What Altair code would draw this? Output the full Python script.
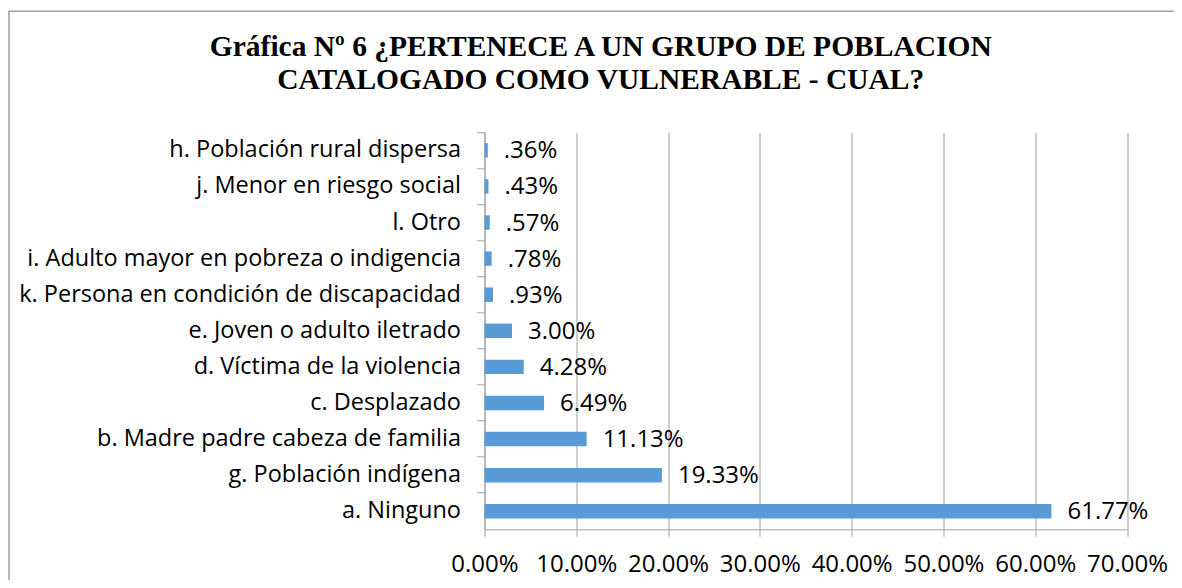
import altair as alt
import pandas as pd

categories = [
    "h. Población rural dispersa",
    "j. Menor en riesgo social",
    "l. Otro",
    "i. Adulto mayor en pobreza o indigencia",
    "k. Persona en condición de discapacidad",
    "e. Joven o adulto iletrado",
    "d. Víctima de la violencia",
    "c. Desplazado",
    "b. Madre padre cabeza de familia",
    "g. Población indígena",
    "a. Ninguno",
]
values = [0.0036, 0.0043, 0.0057, 0.0078, 0.0093, 0.0300, 0.0428, 0.0649, 0.1113, 0.1933, 0.6177]
value_labels = [".36%", ".43%", ".57%", ".78%", ".93%", "3.00%", "4.28%", "6.49%", "11.13%", "19.33%", "61.77%"]
x_ticks = [0, 0.1, 0.2, 0.3, 0.4, 0.5, 0.6, 0.7]
title_lines = ["Gráfica Nº 6 ¿PERTENECE A UN GRUPO DE POBLACION", "CATALOGADO COMO VULNERABLE - CUAL?"]

df = pd.DataFrame({"cat": categories, "val": values, "lab": value_labels})

GRAY = "#a0a0a0"
FONT = "Open Sans"

y_enc = alt.Y(
    "cat:N",
    sort=categories,
    title=None,
    scale=alt.Scale(paddingInner=0, paddingOuter=0),
    axis=alt.Axis(
        bandPosition=0,
        tickSize=8,
        tickColor=GRAY,
        domainColor=GRAY,
        labelFont=FONT,
        labelFontSize=23.5,
        labelColor="#000000",
        labelPadding=16,
        labelLimit=600,
        grid=False,
    ),
)
x_enc = alt.X(
    "val:Q",
    title=None,
    scale=alt.Scale(domain=[0, 0.7], nice=False),
    axis=alt.Axis(
        values=x_ticks,
        format=".2%",
        tickSize=7,
        tickColor=GRAY,
        domainColor=GRAY,
        gridColor=GRAY,
        grid=True,
        labelFlush=False,
        labelFont=FONT,
        labelFontSize=24,
        labelColor="#000000",
        labelPadding=16,
    ),
)

bars = alt.Chart(df).mark_bar(color="#5b9bd5", height={"band": 0.4}).encode(x=x_enc, y=y_enc)
texts = alt.Chart(df).mark_text(
    align="left", dx=16, dy=1, font=FONT, fontSize=24, color="#000000"
).encode(x="val:Q", y=alt.Y("cat:N", sort=categories), text="lab:N")

frame = alt.Chart(df.head(1)).mark_rect(fill=None, stroke=GRAY, strokeWidth=1.5).encode(
    x=alt.value(-475.5), x2=alt.value(760), y=alt.value(-121), y2=alt.value(480)
)

chart = (
    alt.layer(frame, bars, texts)
    .properties(
        width=642.5,
        height=397,
        autosize=alt.AutoSizeParams(type="none"),
        padding={"left": 476.5, "top": 124.3, "right": 47, "bottom": 51},
        title=alt.Title(
            title_lines,
            font="Liberation Serif",
            fontSize=29.5,
            fontWeight="bold",
            color="#000000",
            anchor="middle",
            frame="group",
            dx=-205,
            offset=-85,
            lineHeight=33,
        ),
    )
    .configure_view(stroke=None)
)

chart.save("out.html", embed_options={"renderer": "svg", "actions": False})
